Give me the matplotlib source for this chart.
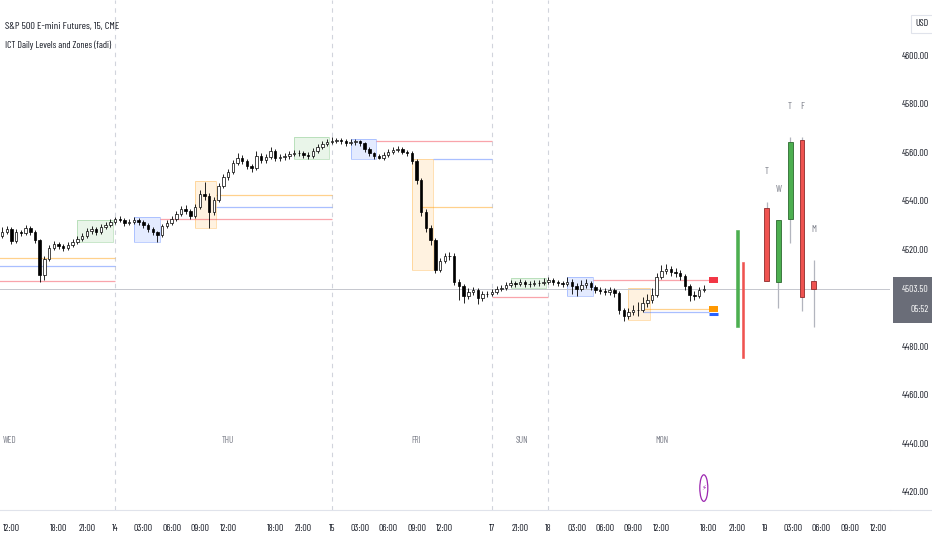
import matplotlib
matplotlib.use('Agg')
import matplotlib.pyplot as plt
import matplotlib.transforms as mtransforms
from matplotlib.patches import Rectangle, Ellipse
from matplotlib.lines import Line2D
import numpy as np

plt.rcParams['font.family'] = ['Barlow Condensed', 'DejaVu Sans']

# ---------------- time helper (trading hours, 1h CME break 17:00-18:00) -------------
DAY_BASE = {'Wed': 0, 'Thu': 23, 'Fri': 46, 'Sun': 45, 'Mon': 69, 'Tue': 92}


def th(s):
    d, hm = s.split()
    h, m = map(int, hm.split(':'))
    v = h + m / 60.0
    if d != 'Sun' and v >= 18:
        v -= 1
    return DAY_BASE[d] + v


# ---------------- data ----------------
title = "S&P 500 E-mini Futures, 15, CME"
subtitle = "ICT Daily Levels and Zones (fadi)"

first_bar = 'Wed 10:30'
bar_hours = 0.5
first_open = 4524.5
closes = [
    4525.4, 4527.0, 4528.3, 4523.3, 4527.0, 4526.6, 4528.7, 4527.0, 4523.7, 4509.5,
    4516.0, 4520.4, 4522.1, 4521.2, 4520.4, 4521.6, 4522.9, 4524.1, 4525.4, 4527.4,
    4528.3, 4527.0, 4529.1, 4529.9, 4531.1, 4532.4, 4532.0, 4530.7, 4531.1, 4532.0,
    4531.1, 4529.9, 4528.3, 4527.0, 4525.8, 4529.5, 4530.7, 4532.4, 4534.4, 4536.5,
    4535.7, 4533.6, 4537.3, 4542.7, 4541.9, 4535.3, 4540.2, 4546.0, 4549.7, 4551.7,
    4555.5, 4557.5, 4556.3, 4554.2, 4553.4, 4558.3, 4556.7, 4557.9, 4560.4, 4557.5,
    4557.9, 4558.3, 4559.2, 4559.6, 4559.6, 4558.8, 4558.3, 4560.4, 4562.1, 4563.3,
    4564.1, 4564.5, 4564.9, 4564.5, 4563.7, 4564.1, 4564.5, 4563.7, 4561.2, 4559.6,
    4558.3, 4557.5, 4558.8, 4560.0, 4560.8, 4561.2, 4560.0, 4559.6, 4556.3, 4548.5,
    4535.3, 4528.7, 4523.7, 4511.3, 4515.1, 4517.1, 4517.1, 4506.4, 4504.7, 4500.6,
    4502.3, 4503.1, 4499.8, 4501.5, 4501.5, 4502.3, 4503.5, 4503.9, 4505.2, 4506.0,
    4505.6, 4506.4, 4505.6, 4505.6, 4506.0, 4506.0, 4506.4, 4507.2, 4506.4, 4506.0,
    4505.6, 4506.4, 4504.7, 4503.5, 4505.2, 4506.0, 4504.3, 4503.1, 4502.7, 4502.3,
    4503.1, 4501.9, 4494.9, 4492.4, 4494.0, 4494.9, 4494.9, 4497.7, 4499.0, 4501.0,
    4508.5, 4510.9, 4511.8, 4510.5, 4510.1, 4508.9, 4504.7, 4501.0, 4500.6, 4503.1,
    4503.5]
highs = [
    4527.0, 4528.9, 4529.5, 4529.1, 4528.4, 4528.0, 4530.0, 4529.6, 4527.8, 4524.3,
    4517.2, 4521.5, 4523.4, 4523.0, 4522.0, 4522.8, 4524.0, 4525.3, 4526.5, 4528.6,
    4529.6, 4529.2, 4530.3, 4531.2, 4532.4, 4533.3, 4533.6, 4532.9, 4532.3, 4533.2,
    4533.0, 4531.9, 4530.6, 4529.0, 4527.6, 4530.4, 4531.9, 4533.6, 4535.5, 4537.8,
    4538.1, 4536.6, 4538.6, 4544.4, 4547.6, 4543.0, 4541.5, 4547.2, 4551.0, 4553.0,
    4556.8, 4559.8, 4558.6, 4557.0, 4555.2, 4560.4, 4559.5, 4559.3, 4562.0, 4561.3,
    4559.1, 4559.5, 4560.4, 4560.8, 4560.9, 4560.6, 4559.9, 4561.6, 4563.3, 4564.5,
    4565.4, 4566.2, 4566.0, 4565.8, 4565.2, 4565.4, 4565.3, 4565.1, 4564.3, 4562.0,
    4560.2, 4559.0, 4560.0, 4561.1, 4562.0, 4562.3, 4562.0, 4560.9, 4560.3, 4557.1,
    4549.4, 4536.5, 4530.0, 4524.5, 4516.4, 4518.5, 4518.6, 4518.2, 4507.8, 4505.6,
    4503.8, 4504.4, 4504.0, 4502.7, 4502.9, 4503.4, 4504.7, 4505.0, 4506.3, 4507.2,
    4507.0, 4507.6, 4507.4, 4506.7, 4507.3, 4507.4, 4508.0, 4508.4, 4508.1, 4507.4,
    4507.0, 4508.5, 4507.6, 4506.0, 4507.3, 4507.8, 4507.0, 4505.2, 4504.2, 4503.8,
    4504.5, 4504.0, 4502.6, 4495.8, 4495.6, 4497.0, 4498.0, 4500.3, 4501.5, 4503.9,
    4510.0, 4513.6, 4514.0, 4513.2, 4512.0, 4511.2, 4509.6, 4505.5, 4502.8, 4504.3,
    4505.0]
lows = [
    4523.6, 4524.7, 4526.2, 4522.0, 4522.5, 4525.3, 4525.8, 4525.9, 4522.4, 4506.6,
    4507.4, 4515.2, 4519.6, 4520.1, 4519.3, 4519.5, 4520.8, 4522.0, 4523.3, 4524.6,
    4526.2, 4525.8, 4526.4, 4528.2, 4529.0, 4530.3, 4531.0, 4529.6, 4529.8, 4530.2,
    4530.0, 4528.7, 4527.1, 4525.7, 4523.0, 4525.0, 4528.6, 4529.9, 4531.6, 4533.5,
    4534.3, 4532.3, 4532.9, 4536.5, 4540.4, 4528.8, 4533.9, 4539.4, 4545.2, 4548.6,
    4550.9, 4554.6, 4555.0, 4552.9, 4551.8, 4552.6, 4555.4, 4555.6, 4557.0, 4556.2,
    4556.3, 4556.9, 4557.3, 4558.2, 4558.3, 4557.6, 4557.1, 4557.5, 4559.6, 4561.3,
    4562.5, 4563.2, 4563.6, 4563.4, 4562.6, 4562.8, 4563.0, 4562.5, 4560.0, 4558.5,
    4557.2, 4557.1, 4556.8, 4558.0, 4559.2, 4560.0, 4559.0, 4558.4, 4555.0, 4547.0,
    4533.8, 4527.0, 4521.8, 4510.0, 4510.5, 4514.3, 4515.6, 4505.0, 4498.9, 4497.6,
    4499.4, 4500.9, 4497.3, 4498.6, 4500.2, 4500.6, 4501.6, 4502.7, 4503.0, 4504.3,
    4504.4, 4504.6, 4504.5, 4504.3, 4504.8, 4504.9, 4505.2, 4505.6, 4505.3, 4504.8,
    4504.3, 4504.9, 4501.6, 4500.6, 4502.7, 4504.1, 4503.0, 4501.8, 4501.4, 4500.9,
    4501.2, 4500.3, 4493.2, 4490.4, 4491.0, 4492.8, 4492.6, 4493.9, 4496.2, 4497.6,
    4500.2, 4507.6, 4509.6, 4509.0, 4508.6, 4507.4, 4503.0, 4498.6, 4498.8, 4499.7,
    4502.4]
last_price = 4503.50
countdown = "05:52"

# session zones (Asia = green, London = blue, NY = orange)
zone_start = ['Wed 20:00', 'Thu 02:00', 'Thu 08:30', 'Thu 20:00', 'Fri 02:00',
              'Fri 08:30', 'Sun 20:00', 'Mon 02:00', 'Mon 08:30']
zone_end = ['Wed 23:45', 'Thu 04:45', 'Thu 10:45', 'Thu 23:45', 'Fri 04:45',
            'Fri 10:45', 'Sun 23:45', 'Mon 04:45', 'Mon 10:45']
zone_top = [4532.0, 4533.2, 4548.0, 4566.2, 4565.4, 4557.1, 4508.0, 4508.5, 4503.9]
zone_bottom = [4522.9, 4522.9, 4528.7, 4557.1, 4557.1, 4511.3, 4503.9, 4500.6, 4490.7]
zone_kind = ['asia', 'london', 'ny', 'asia', 'london', 'ny', 'asia', 'london', 'ny']

# daily levels
level_start = ['Wed 10:00', 'Wed 10:00', 'Wed 10:00',
               'Thu 04:45', 'Thu 10:45', 'Thu 10:45',
               'Fri 04:45', 'Fri 10:45', 'Fri 09:30',
               'Sun 18:00',
               'Mon 04:45', 'Mon 10:00', 'Mon 10:00']
level_end = ['Thu 00:00', 'Thu 00:00', 'Thu 00:00',
             'Fri 00:00', 'Fri 00:00', 'Fri 00:00',
             'Sun 18:00', 'Sun 18:00', 'Sun 18:00',
             'Mon 00:00',
             'Mon 17:00', 'Mon 17:00', 'Mon 17:00']
level_price = [4516.3, 4513.0, 4506.8,
               4532.4, 4537.3, 4542.4,
               4564.5, 4557.1, 4537.3,
               4500.2,
               4507.2, 4494.0, 4495.3]
level_kind = ['orange', 'blue', 'red',
              'red', 'blue', 'orange',
              'red', 'blue', 'orange',
              'red',
              'red', 'blue', 'orange']

# current-day level markers
marker_start = 'Mon 17:00'
marker_end = 'Mon 19:00'
marker_price = [4507.2, 4495.3, 4493.4]
marker_kind = ['red', 'orange', 'blue']

# higher-timeframe (daily) candles drawn to the right
htf_time = ['Tue 00:10', 'Tue 01:25', 'Tue 02:40', 'Tue 03:55', 'Tue 05:10']
htf_label = ['T', 'W', 'T', 'F', 'M']
htf_open = [4536.9, 4506.4, 4532.4, 4564.9, 4506.8]
htf_close = [4506.8, 4532.0, 4564.1, 4500.2, 4503.5]
htf_high = [4539.4, 4532.0, 4566.2, 4566.2, 4515.5]
htf_low = [4506.8, 4495.7, 4522.5, 4494.4, 4487.8]

thin_time = ['Mon 21:05', 'Mon 21:40']
thin_open = [4487.8, 4514.6]
thin_close = [4527.8, 4475.1]

# axis ticks
tick_times = ['Wed 12:00', 'Wed 18:00', 'Wed 21:00', 'Thu 00:00', 'Thu 03:00', 'Thu 06:00',
              'Thu 09:00', 'Thu 12:00', 'Thu 18:00', 'Thu 21:00', 'Fri 00:00', 'Fri 03:00',
              'Fri 06:00', 'Fri 09:00', 'Fri 12:00', 'Sun 18:00', 'Sun 21:00', 'Mon 00:00',
              'Mon 03:00', 'Mon 06:00', 'Mon 09:00', 'Mon 12:00', 'Mon 18:00', 'Mon 21:00',
              'Tue 00:00', 'Tue 03:00', 'Tue 06:00', 'Tue 09:00', 'Tue 12:00']
tick_labels = ['12:00', '18:00', '21:00', '14', '03:00', '06:00', '09:00', '12:00',
               '18:00', '21:00', '15', '03:00', '06:00', '09:00', '12:00', '17', '21:00',
               '18', '03:00', '06:00', '09:00', '12:00', '18:00', '21:00', '19', '03:00',
               '06:00', '09:00', '12:00']
price_ticks = [4420, 4440, 4460, 4480, 4500, 4520, 4540, 4560, 4580, 4600]
separators = ['Thu 00:00', 'Fri 00:00', 'Sun 18:00', 'Mon 00:00']
day_names = ['WED', 'THU', 'FRI', 'SUN', 'MON']
day_name_times = ['Wed 11:45', 'Thu 12:00', 'Fri 09:00', 'Sun 21:10', 'Mon 12:05']

x_range = ('Wed 10:47', 'Tue 13:16')
y_range = (4412.4, 4622.7)

# ---------------- styles ----------------
ZONE_COL = {'asia': '#4caf50', 'london': '#2962ff', 'ny': '#ff9800'}
LEVEL_COL = {'red': (0.95, 0.21, 0.27, 0.45), 'blue': (0.16, 0.38, 1.0, 0.40),
             'orange': (1.0, 0.60, 0.0, 0.45)}
MARK_COL = {'red': '#f23645', 'orange': '#ff9800', 'blue': '#2962ff'}
MARK_LW = {'red': 4.3, 'orange': 4.3, 'blue': 2.2}
TXT = '#131722'
GRAY = '#787b86'
FS = 7

# ---------------- figure ----------------
fig = plt.figure(figsize=(9.32, 5.5), dpi=100)
ax = fig.add_axes([0, 40 / 550, 890 / 932, 510 / 550])
ax.set_xlim(th(x_range[0]), th(x_range[1]))
ax.set_ylim(*y_range)
bx = mtransforms.blended_transform_factory(ax.transData, ax.transAxes)
by = mtransforms.blended_transform_factory(ax.transAxes, ax.transData)

for s in ['top', 'left', 'right']:
    ax.spines[s].set_visible(False)
ax.spines['bottom'].set_color('#e0e3eb')
fig.add_artist(Line2D([890 / 932, 1], [40 / 550, 40 / 550], color='#e0e3eb', lw=0.8,
                      transform=fig.transFigure))

# separators
for s in separators:
    ax.axvline(th(s), color='#d1d4dc', lw=0.8, ls=(0, (4, 4)), zorder=0)

# zones
for s, e, t, b, k in zip(zone_start, zone_end, zone_top, zone_bottom, zone_kind):
    c = ZONE_COL[k]
    ax.add_patch(Rectangle((th(s), b), th(e) - th(s), t - b, facecolor=c, alpha=0.12,
                           edgecolor='none', zorder=1))
    ax.add_patch(Rectangle((th(s), b), th(e) - th(s), t - b, facecolor='none',
                           edgecolor=c, alpha=0.35, lw=0.6, zorder=1))

# levels
for s, e, p, k in zip(level_start, level_end, level_price, level_kind):
    ax.hlines(p, th(s), th(e), color=LEVEL_COL[k], lw=0.9, zorder=2)
for p, k in zip(marker_price, marker_kind):
    ax.hlines(p, th(marker_start), th(marker_end), color=MARK_COL[k], lw=MARK_LW[k],
              zorder=3)

# current price line
ax.axhline(last_price, color='#c5c7ce', lw=0.7, zorder=1.5)

# candles
c = np.array(closes)
o = np.array([first_open] + closes[:-1])
hi = np.array(highs)
lo = np.array(lows)
t = th(first_bar) + bar_hours * np.arange(len(c))
up = c >= o
ax.vlines(t, lo, hi, color='black', lw=0.6, zorder=4)
body_b = np.minimum(o, c)
body_h = np.maximum(np.abs(c - o), 0.15)
ax.bar(t, body_h, bottom=body_b, width=0.26, color=np.where(up, 'white', 'black'),
       edgecolor='black', linewidth=0.5, zorder=5)

# HTF candles
for tt, op, cl, h, l, lab in zip(htf_time, htf_open, htf_close, htf_high, htf_low, htf_label):
    x = th(tt)
    col = '#4caf50' if cl >= op else '#ef5350'
    edge = '#2d6a30' if cl >= op else '#8f2b2b'
    ax.vlines(x, l, h, color='#b2b5be', lw=0.9, zorder=4)
    ax.bar(x, abs(cl - op), bottom=min(op, cl), width=0.5, color=col, edgecolor=edge,
           linewidth=0.6, zorder=5)
    ax.annotate(lab, (x, h), xytext=(0, 22), textcoords='offset points', ha='center',
                va='center', fontsize=FS, color=GRAY)
for tt, op, cl in zip(thin_time, thin_open, thin_close):
    x = th(tt)
    col = '#4caf50' if cl >= op else '#ef5350'
    ax.bar(x, abs(cl - op), bottom=min(op, cl), width=0.28, color=col, edgecolor=col,
           linewidth=0.4, zorder=5)

# day names
for n, tt in zip(day_names, day_name_times):
    ax.text(th(tt), 0.137, n, transform=bx, ha='center', va='center', fontsize=FS - 0.5,
            color=GRAY)

# purple event icon
ax.add_patch(Ellipse((t[-1], 0.043), 0.85, 0.052, transform=bx, fill=False,
                     edgecolor='#9c27b0', lw=0.9, zorder=6))
ax.text(t[-1], 0.043, '\u26a1', transform=bx, ha='center', va='center', fontsize=5,
        color='#9c27b0', family='DejaVu Sans')

# axes ticks
ax.set_xticks([th(s) for s in tick_times], tick_labels)
ax.tick_params(axis='x', length=0, pad=10, labelsize=FS, colors=TXT)
ax.yaxis.tick_right()
ax.set_yticks(price_ticks, [f'{v:.2f}' for v in price_ticks])
ax.tick_params(axis='y', length=0, pad=28, labelsize=FS, colors=TXT)
for lbl in ax.get_yticklabels():
    lbl.set_horizontalalignment('right')

# price label box
ax.add_patch(Rectangle((893 / 932, (550 - 323) / 550), 39 / 932, 46 / 550,
                       transform=fig.transFigure, facecolor='#6a6d78',
                       edgecolor='none', zorder=10, clip_on=False))
ax.text(1.0435, last_price, f'{last_price:.2f}', transform=by, ha='right', va='center',
        fontsize=FS, color='white', zorder=11, clip_on=False)
ax.annotate(countdown, (1.0435, last_price), xycoords=by, xytext=(0, -15),
            textcoords='offset points', ha='right', va='center', fontsize=FS,
            color='white', zorder=11, annotation_clip=False)

# titles & currency
fig.text(5 / 932, 1 - 26 / 550, title, ha='left', va='center', fontsize=7.5, color=TXT)
fig.text(5 / 932, 1 - 45 / 550, subtitle, ha='left', va='center', fontsize=7, color=TXT)
fig.text(922 / 932, 1 - 24 / 550, 'USD', ha='center', va='center', fontsize=FS, color=TXT,
         bbox=dict(boxstyle='square,pad=0.5', facecolor='white', edgecolor='#e0e3eb',
                   lw=0.8))

fig.savefig('out.png', dpi=100)
